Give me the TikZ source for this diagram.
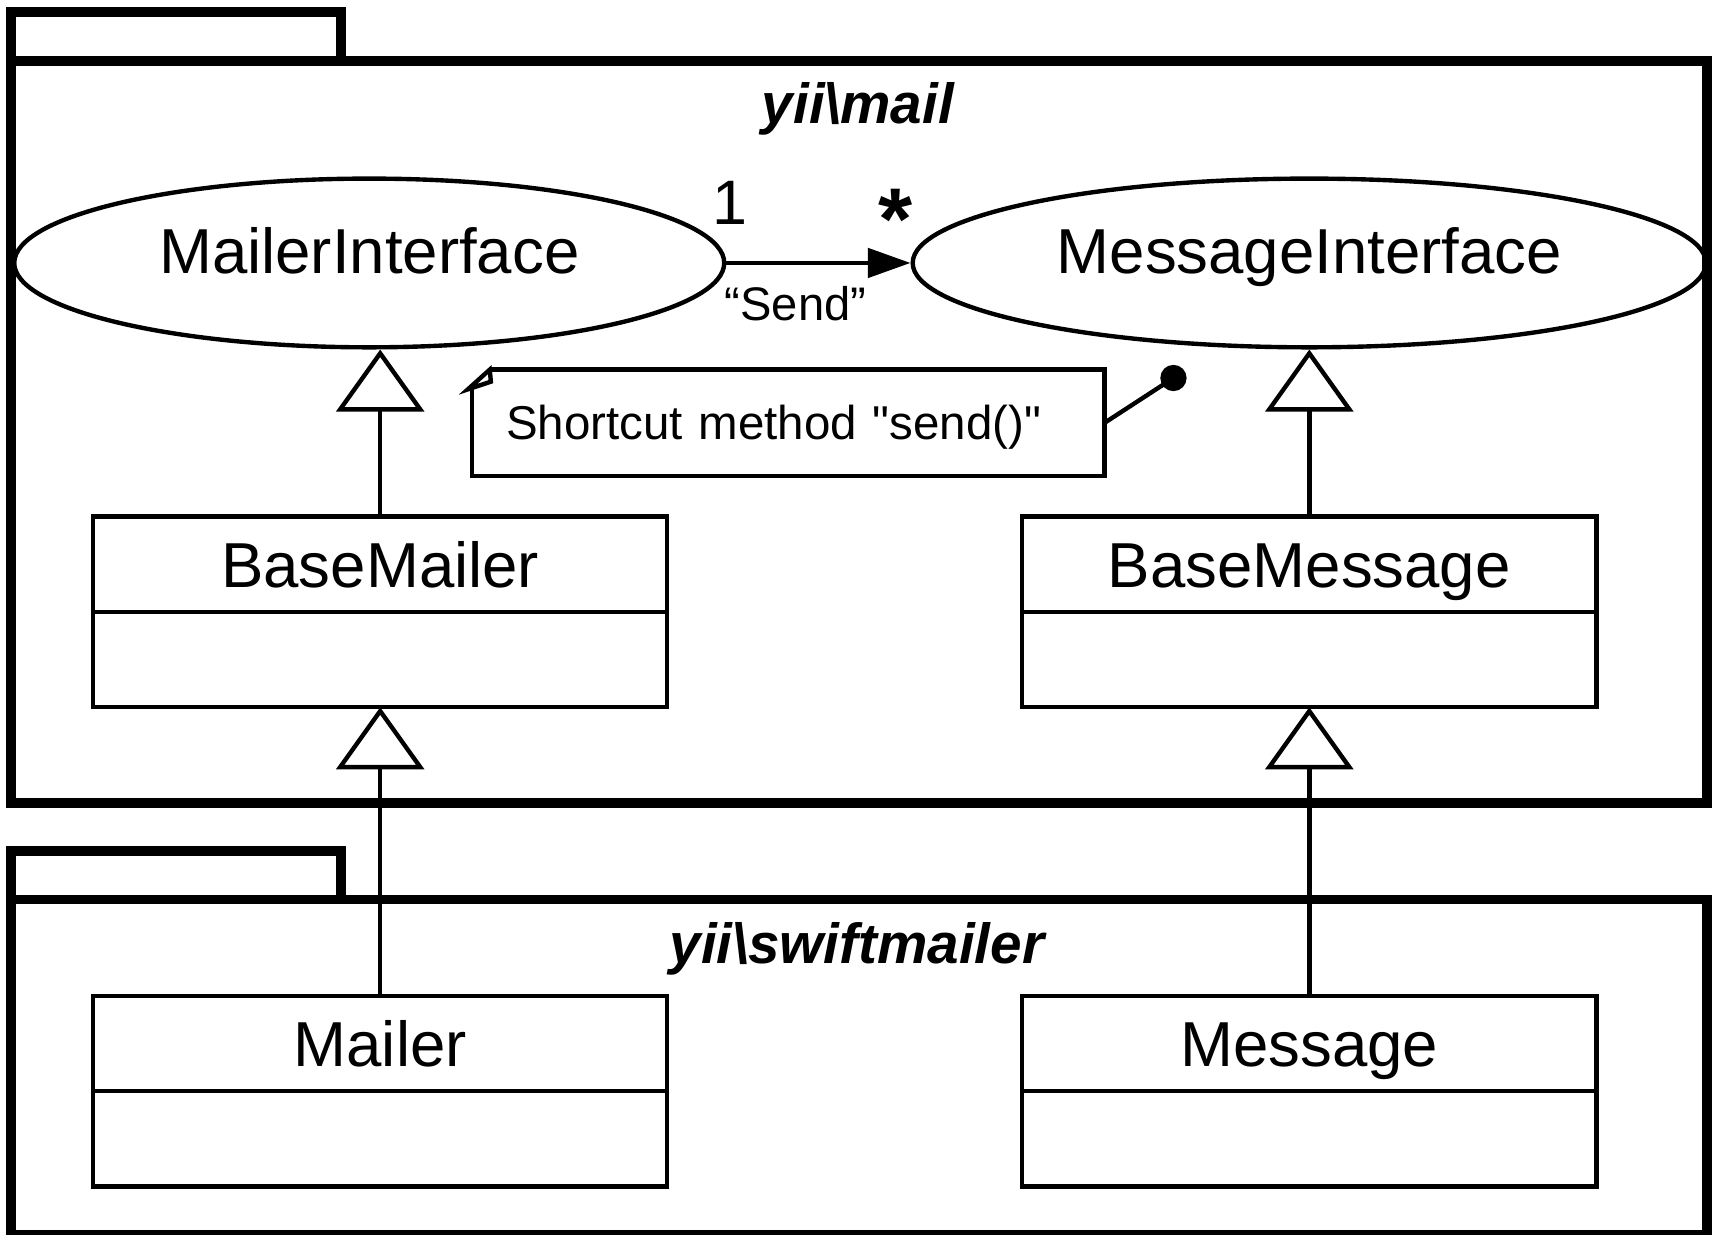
\documentclass[tikz,border=0pt]{standalone}
\usepackage{fontspec}
\setmainfont{Liberation Sans}
\usetikzlibrary{arrows.meta,shapes.geometric,positioning,calc}

\tikzset{every picture/.style={line width=1.2pt}}
\tikzset{
  pkgline/.style={line width=2.7pt},
  iface/.style={draw,ellipse,inner sep=0pt,minimum height=46.2pt,font=\fontsize{17.4}{21}\selectfont,text height=9pt,text depth=3pt},
  classhead/.style={draw,rectangle,inner sep=0pt,outer sep=0pt,minimum width=157.2pt,minimum height=26.1pt,font=\fontsize{17.4}{21}\selectfont,text height=12.5pt,text depth=0pt},
  classbody/.style={draw,rectangle,inner sep=0pt,outer sep=0pt,minimum width=157.2pt,minimum height=26.1pt},
  pkgname/.style={inner sep=0pt,anchor=base,font=\fontsize{15.5}{19}\selectfont\bfseries\itshape},
  gen/.style={-{Triangle[open,length=17pt,width=24pt]}},
}

\begin{document}
\begin{tikzpicture}[x=0.3pt,y=0.3pt,yscale=-1,xscale=1]
\useasboundingbox (0,0) rectangle (1568,1127);

%Shape: Package [yii\mail]
\draw[pkgline] (10,56) -- (10,11) -- (311,11) -- (311,56) ;
\draw[pkgline] (10,56) rectangle (1558,733) ;
% Text Node
\node[pkgname] (mailpkg) at (783,113) {yii\textbackslash mail};

%Shape: Package [yii\swiftmailer]
\draw[pkgline] (10,821) -- (10,777) -- (311,777) -- (311,821) ;
\draw[pkgline] (10,821) rectangle (1558,1127) ;
% Text Node
\node[pkgname] (swiftpkg) at (782,879) {yii\textbackslash swiftmailer};

%Shape: Ellipse [interfaces]
\node[iface,minimum width=194.4pt] (mailerif) at (337,240) {MailerInterface};
\node[iface,minimum width=217.2pt] (messageif) at (1195,240) {MessageInterface};

%Shape: Class boxes
\node[classhead] (bmailer) at (347,515) {BaseMailer};
\node[classbody,below=0pt of bmailer] (bmailerb) {};
\node[classhead] (bmessage) at (1195,515) {BaseMessage};
\node[classbody,below=0pt of bmessage] (bmessageb) {};
\node[classhead] (mailer) at (347,952.5) {Mailer};
\node[classbody,below=0pt of mailer] (mailerb) {};
\node[classhead] (message) at (1195,952.5) {Message};
\node[classbody,below=0pt of message] (messageb) {};

%Straight Lines [association]
\draw[-{Triangle[length=11.7pt,width=8pt]}] (mailerif) -- (messageif) ;
% Text Node
\node[font=\fontsize{17.2}{20}\selectfont,inner sep=0pt] (multone) at (666,185) {1};
% Text Node
\node[font=\fontsize{24}{28}\selectfont\bfseries,inner sep=0pt] (multmany) at (817,200) {*};
% Text Node
\node[font=\fontsize{12.9}{15}\selectfont,inner sep=0pt] (sendlbl) at (726,277) {“Send”};

%Shape: Note
\node[inner sep=0pt,inner xsep=8.7pt,text width=154.5pt,align=left,minimum height=28pt,text height=9.3pt,text depth=0pt,font=\fontsize{13}{16}\selectfont] (note) at (719.5,386) {Shortcut method \textquotedbl send()\textquotedbl};
\draw ($(note.north west)+(0,14)$) -- (note.south west) -- (note.south east) -- (note.north east) -- ($(note.north west)+(16,0)$) ;
\draw ($(note.north west)+(-4,18)$) -- ($(note.north west)+(16,0)$) -- ($(note.north west)+(17,11)$) -- cycle ;
\coordinate (pin) at (1071,345);
\draw (note.east) -- (pin) ;
\fill (pin) circle (12) ;

%Straight Lines [generalization]
\draw[gen] (bmailer.north) -- (bmailer.north |- mailerif.south) ;
\draw[gen] (bmessage.north) -- (bmessage.north |- messageif.south) ;
\draw[gen] (mailer.north) -- (bmailerb.south) ;
\draw[gen] (message.north) -- (bmessageb.south) ;

\end{tikzpicture}
\end{document}
